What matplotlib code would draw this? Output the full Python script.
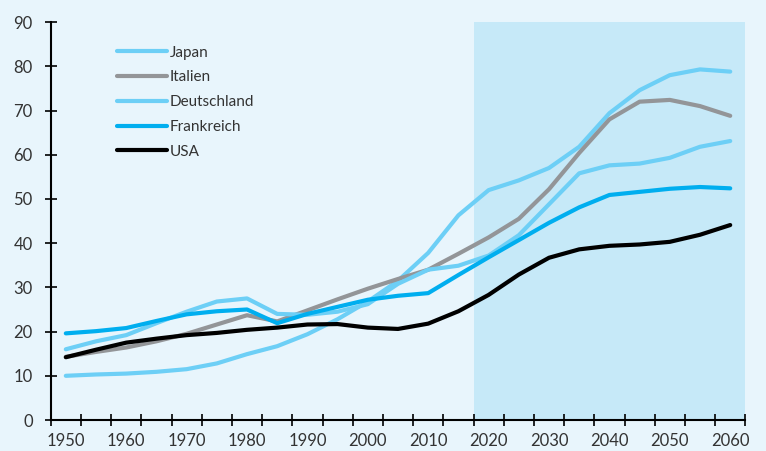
import numpy as np
import matplotlib.pyplot as plt
from matplotlib.ticker import MultipleLocator, FixedLocator

plt.rcParams['font.family'] = ['Lato', 'DejaVu Sans']

# Jahre 1950 bis 2060 in 5-Jahres-Schritten
jahre = np.arange(1950, 2061, 5)

japan = [10.0, 10.3, 10.5, 10.9, 11.5, 12.8, 14.9, 16.7, 19.4, 22.8, 26.8, 31.5, 37.8,
         46.3, 52.0, 54.2, 57.0, 61.8, 69.4, 74.6, 78.0, 79.3, 78.8]
italien = [14.3, 15.4, 16.4, 17.8, 19.5, 21.6, 23.7, 22.3, 24.8, 27.3, 29.7, 31.9, 34.0,
           37.6, 41.3, 45.5, 52.2, 60.4, 68.0, 72.0, 72.4, 71.0, 68.8]
deutschland = [16.0, 17.8, 19.2, 21.9, 24.5, 26.8, 27.5, 24.0, 23.8, 24.5, 26.2, 30.8, 34.0,
               34.9, 37.2, 41.8, 48.8, 55.8, 57.6, 58.0, 59.3, 61.8, 63.1]
frankreich = [19.6, 20.1, 20.8, 22.4, 23.9, 24.6, 25.0, 21.9, 24.0, 25.6, 27.2, 28.1, 28.7,
              32.8, 36.8, 40.7, 44.6, 48.1, 50.9, 51.6, 52.3, 52.7, 52.4]
usa = [14.2, 15.9, 17.5, 18.4, 19.2, 19.7, 20.4, 20.9, 21.6, 21.7, 20.9, 20.6, 21.8,
       24.6, 28.3, 32.9, 36.7, 38.6, 39.4, 39.7, 40.3, 41.9, 44.1]

hellblau = '#6dcff6'
serien = [
    ('Japan', japan, hellblau),
    ('Italien', italien, '#939598'),
    ('Deutschland', deutschland, hellblau),
    ('Frankreich', frankreich, '#00aeef'),
    ('USA', usa, '#000000'),
]

fig = plt.figure(figsize=(7.66, 4.51), dpi=100, facecolor='#e8f5fc')
ax = fig.add_axes([0.0662, 0.0687, 0.9068, 0.8823])
ax.set_facecolor('#e8f5fc')

# Prognosezeitraum hinterlegen
ax.axvspan(2017.5, 2062.5, color='#c6e9f8', lw=0, zorder=0)

for name, werte, farbe in serien:
    ax.plot(jahre, werte, color=farbe, lw=3.0, label=name,
            solid_capstyle='round', solid_joinstyle='round', zorder=2)

ax.set_xlim(1947.5, 2062.5)
ax.set_ylim(0, 90)

ax.xaxis.set_major_locator(MultipleLocator(10))
ax.xaxis.set_minor_locator(FixedLocator(np.arange(1947.5, 2063, 5)))
ax.yaxis.set_major_locator(MultipleLocator(10))

ax.tick_params(axis='x', which='major', length=0, pad=9, labelsize=12, labelcolor='#333333')
ax.tick_params(axis='x', which='minor', direction='inout', length=8, width=1.2)
ax.tick_params(axis='y', which='major', direction='inout', length=8, width=1.2,
               pad=9, labelsize=12, labelcolor='#333333')

for s in ['top', 'right']:
    ax.spines[s].set_visible(False)
for s in ['left', 'bottom']:
    ax.spines[s].set_linewidth(1.5)

leg = ax.legend(loc='upper left', bbox_to_anchor=(0.075, 0.975), frameon=False,
                fontsize=11, handlelength=3.3, handletextpad=0.2,
                labelspacing=0.7, labelcolor='#333333')

fig.savefig('out.png', dpi=100, facecolor=fig.get_facecolor())
